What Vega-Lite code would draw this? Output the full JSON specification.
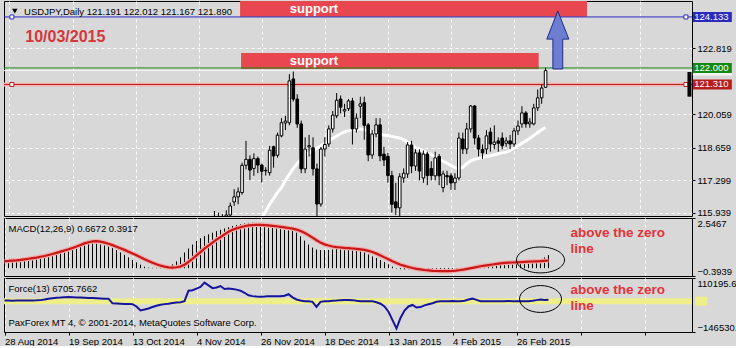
{
"$schema": "https://vega.github.io/schema/vega-lite/v6.json",
"background": "#D8D8D8",
"padding": {"left": 3, "top": 0, "right": 0, "bottom": 0},
"spacing": 2,
"bounds": "flush",
"config": {
  "font": "Liberation Sans, Arial, sans-serif",
  "view": {"stroke": "#000000", "strokeWidth": 1, "fill": "#D8D8D8"},
  "axis": {"labelFont": "Liberation Sans, Arial, sans-serif", "labelFontSize": 9.5, "labelColor": "#000000", "tickColor": "#000000", "gridColor": "#FFFFFF", "gridDash": [3, 3], "gridWidth": 1, "domain": false},
  "text": {"font": "Liberation Sans, Arial, sans-serif", "fontSize": 9.5}
},
"datasets": {
  "zones": [
    {"x1": 58.5, "x2": 146.5, "y1": 124.145, "y2": 124.95, "lx": 77.25, "ly": 124.47, "label": "support"},
    {"x1": 58.75, "x2": 134.25, "y1": 121.96, "y2": 122.63, "lx": 77.25, "ly": 122.30, "label": "support"}
  ],
  "levels": [
    {"name": "resistance", "price": 124.133},
    {"name": "bid", "price": 121.89},
    {"name": "target", "price": 122.0},
    {"name": "stop", "price": 121.31}
  ],
  "candles": [
    {"i":52,"o":115.40,"h":116.02,"l":115.10,"c":115.60},
    {"i":53,"o":115.60,"h":115.95,"l":115.30,"c":115.50},
    {"i":54,"o":115.50,"h":115.90,"l":115.20,"c":115.70},
    {"i":55,"o":115.70,"h":116.05,"l":115.40,"c":115.85},
    {"i":56,"o":115.85,"h":116.37,"l":115.60,"c":116.23},
    {"i":57,"o":116.40,"h":116.93,"l":116.23,"c":116.61},
    {"i":58,"o":116.61,"h":117.00,"l":116.30,"c":116.82},
    {"i":59,"o":116.79,"h":118.04,"l":116.70,"c":117.93},
    {"i":60,"o":117.93,"h":118.95,"l":117.76,"c":118.18},
    {"i":61,"o":118.18,"h":118.35,"l":117.32,"c":117.73},
    {"i":62,"o":117.80,"h":118.43,"l":117.49,"c":118.21},
    {"i":63,"o":118.21,"h":118.30,"l":117.60,"c":117.94},
    {"i":64,"o":117.94,"h":118.00,"l":117.21,"c":117.68},
    {"i":65,"o":117.70,"h":117.85,"l":117.50,"c":117.72},
    {"i":66,"o":117.62,"h":118.74,"l":117.50,"c":118.56},
    {"i":67,"o":118.71,"h":118.75,"l":117.83,"c":118.32},
    {"i":68,"o":118.35,"h":119.30,"l":118.25,"c":119.19},
    {"i":69,"o":119.16,"h":119.90,"l":119.10,"c":119.71},
    {"i":70,"o":119.70,"h":120.00,"l":119.40,"c":119.78},
    {"i":71,"o":119.71,"h":121.74,"l":119.60,"c":121.46},
    {"i":72,"o":121.54,"h":121.85,"l":120.60,"c":120.70},
    {"i":73,"o":120.70,"h":120.90,"l":119.50,"c":119.66},
    {"i":74,"o":119.66,"h":119.80,"l":117.60,"c":117.78},
    {"i":75,"o":117.78,"h":119.10,"l":117.60,"c":118.61},
    {"i":76,"o":118.70,"h":119.20,"l":118.30,"c":118.75},
    {"i":77,"o":118.66,"h":119.10,"l":117.50,"c":117.78},
    {"i":78,"o":117.78,"h":118.00,"l":115.80,"c":116.31},
    {"i":79,"o":116.31,"h":118.70,"l":116.20,"c":118.61},
    {"i":80,"o":118.61,"h":119.10,"l":118.30,"c":118.80},
    {"i":81,"o":118.82,"h":119.60,"l":118.70,"c":119.45},
    {"i":82,"o":119.45,"h":120.20,"l":119.30,"c":120.03},
    {"i":83,"o":120.00,"h":120.95,"l":119.90,"c":120.65},
    {"i":84,"o":120.70,"h":120.85,"l":120.10,"c":120.36},
    {"i":85,"o":120.20,"h":120.50,"l":119.95,"c":120.26},
    {"i":86,"o":120.30,"h":120.70,"l":120.20,"c":120.62},
    {"i":87,"o":120.62,"h":120.75,"l":118.80,"c":119.45},
    {"i":88,"o":119.45,"h":120.10,"l":119.30,"c":119.90},
    {"i":89,"o":120.40,"h":120.80,"l":119.90,"c":120.50},
    {"i":90,"o":120.55,"h":120.80,"l":119.00,"c":119.60},
    {"i":91,"o":119.62,"h":119.70,"l":118.10,"c":118.36},
    {"i":92,"o":118.36,"h":119.40,"l":118.20,"c":119.24},
    {"i":93,"o":119.24,"h":119.90,"l":119.10,"c":119.62},
    {"i":94,"o":119.62,"h":119.90,"l":118.10,"c":118.32},
    {"i":95,"o":118.40,"h":118.70,"l":117.90,"c":118.15},
    {"i":96,"o":118.30,"h":118.45,"l":117.20,"c":117.50},
    {"i":97,"o":117.50,"h":117.70,"l":115.95,"c":116.30},
    {"i":98,"o":116.40,"h":117.20,"l":115.85,"c":116.15},
    {"i":99,"o":116.15,"h":117.60,"l":115.80,"c":117.45},
    {"i":100,"o":117.40,"h":117.80,"l":117.20,"c":117.60},
    {"i":101,"o":117.57,"h":118.90,"l":117.40,"c":118.78},
    {"i":102,"o":118.78,"h":118.95,"l":117.60,"c":117.90},
    {"i":103,"o":117.90,"h":118.60,"l":117.70,"c":118.45},
    {"i":104,"o":118.45,"h":118.60,"l":117.30,"c":117.69},
    {"i":105,"o":117.40,"h":118.55,"l":117.20,"c":118.40},
    {"i":106,"o":118.40,"h":118.50,"l":117.10,"c":117.50},
    {"i":107,"o":117.80,"h":118.10,"l":117.30,"c":117.50},
    {"i":108,"o":117.49,"h":118.50,"l":117.30,"c":118.24},
    {"i":109,"o":118.30,"h":118.40,"l":117.10,"c":117.49},
    {"i":110,"o":117.00,"h":117.70,"l":116.80,"c":117.57},
    {"i":111,"o":117.50,"h":117.70,"l":117.10,"c":117.45},
    {"i":112,"o":117.49,"h":117.60,"l":116.90,"c":117.19},
    {"i":113,"o":117.20,"h":117.60,"l":116.90,"c":117.40},
    {"i":114,"o":117.40,"h":119.30,"l":117.30,"c":119.07},
    {"i":115,"o":119.03,"h":119.30,"l":118.40,"c":118.61},
    {"i":116,"o":118.61,"h":119.70,"l":118.40,"c":119.45},
    {"i":117,"o":119.45,"h":120.45,"l":119.30,"c":120.41},
    {"i":118,"o":120.41,"h":120.45,"l":118.80,"c":119.07},
    {"i":119,"o":119.07,"h":119.20,"l":118.30,"c":118.61},
    {"i":120,"o":118.60,"h":118.80,"l":118.20,"c":118.45},
    {"i":121,"o":118.61,"h":119.40,"l":118.40,"c":119.16},
    {"i":122,"o":119.32,"h":119.50,"l":118.50,"c":118.82},
    {"i":123,"o":118.80,"h":119.60,"l":118.60,"c":118.90},
    {"i":124,"o":118.95,"h":119.10,"l":118.50,"c":118.85},
    {"i":125,"o":119.07,"h":119.30,"l":118.60,"c":118.75},
    {"i":126,"o":118.85,"h":119.10,"l":118.70,"c":118.95},
    {"i":127,"o":118.95,"h":119.20,"l":118.60,"c":118.82},
    {"i":128,"o":118.82,"h":119.50,"l":118.70,"c":119.37},
    {"i":129,"o":119.37,"h":119.80,"l":119.20,"c":119.57},
    {"i":130,"o":119.66,"h":120.40,"l":119.50,"c":120.12},
    {"i":131,"o":120.12,"h":120.20,"l":119.50,"c":119.66},
    {"i":132,"o":119.66,"h":119.90,"l":119.50,"c":119.74},
    {"i":133,"o":119.66,"h":120.50,"l":119.60,"c":120.33},
    {"i":134,"o":120.33,"h":121.10,"l":120.20,"c":120.75},
    {"i":135,"o":120.75,"h":121.30,"l":120.50,"c":121.16},
    {"i":136,"o":121.191,"h":122.012,"l":121.167,"c":121.890}
  ],
  "ma": [
    {"i":64,"v":115.75},{"i":65,"v":116.0},{"i":66,"v":116.3},{"i":67,"v":116.55},{"i":68,"v":116.8},{"i":69,"v":117.0},
    {"i":70,"v":117.3},{"i":71,"v":117.55},{"i":72,"v":117.8},{"i":73,"v":118.0},{"i":74,"v":118.2},{"i":75,"v":118.35},
    {"i":76,"v":118.45},{"i":77,"v":118.55},{"i":78,"v":118.65},{"i":79,"v":118.75},{"i":80,"v":118.85},{"i":81,"v":118.95},
    {"i":82,"v":119.05},{"i":83,"v":119.15},{"i":84,"v":119.25},{"i":85,"v":119.33},{"i":86,"v":119.38},{"i":87,"v":119.42},
    {"i":88,"v":119.45},{"i":89,"v":119.45},{"i":90,"v":119.42},{"i":91,"v":119.38},{"i":92,"v":119.32},{"i":93,"v":119.26},
    {"i":94,"v":119.22},{"i":95,"v":119.2},{"i":96,"v":119.17},{"i":97,"v":119.14},{"i":98,"v":119.1},{"i":99,"v":119.07},
    {"i":100,"v":119.0},{"i":101,"v":118.9},{"i":102,"v":118.78},{"i":103,"v":118.68},{"i":104,"v":118.6},{"i":105,"v":118.52},
    {"i":106,"v":118.45},{"i":107,"v":118.38},{"i":108,"v":118.3},{"i":109,"v":118.2},{"i":110,"v":118.1},{"i":111,"v":118.02},
    {"i":112,"v":117.92},{"i":113,"v":117.83},{"i":114,"v":117.78},{"i":115,"v":117.85},{"i":116,"v":118.0},{"i":117,"v":118.12},
    {"i":118,"v":118.18},{"i":119,"v":118.22},{"i":120,"v":118.26},{"i":121,"v":118.3},{"i":122,"v":118.33},{"i":123,"v":118.37},
    {"i":124,"v":118.41},{"i":125,"v":118.45},{"i":126,"v":118.48},{"i":127,"v":118.55},{"i":128,"v":118.65},{"i":129,"v":118.75},
    {"i":130,"v":118.85},{"i":131,"v":118.95},{"i":132,"v":119.05},{"i":133,"v":119.18},{"i":134,"v":119.3},{"i":135,"v":119.42},
    {"i":136,"v":119.52}
  ],
  "ind": [
    {"i":0,"hist":0.40,"sig":0.36,"force":3000},{"i":1,"hist":0.42,"sig":0.37,"force":3000},{"i":2,"hist":0.44,"sig":0.39,"force":2500},
    {"i":3,"hist":0.45,"sig":0.40,"force":3000},{"i":4,"hist":0.46,"sig":0.42,"force":3000},{"i":5,"hist":0.48,"sig":0.45,"force":3500},
    {"i":6,"hist":0.50,"sig":0.48,"force":3000},{"i":7,"hist":0.53,"sig":0.51,"force":3500},{"i":8,"hist":0.58,"sig":0.54,"force":4000},
    {"i":9,"hist":0.63,"sig":0.58,"force":5000},{"i":10,"hist":0.68,"sig":0.62,"force":8000},{"i":11,"hist":0.74,"sig":0.67,"force":12000},
    {"i":12,"hist":0.80,"sig":0.72,"force":14000},{"i":13,"hist":0.86,"sig":0.78,"force":16000},{"i":14,"hist":0.92,"sig":0.84,"force":17000},
    {"i":15,"hist":0.98,"sig":0.90,"force":19000},{"i":16,"hist":1.04,"sig":0.96,"force":20000},{"i":17,"hist":1.10,"sig":1.03,"force":19000},
    {"i":18,"hist":1.16,"sig":1.10,"force":18000},{"i":19,"hist":1.22,"sig":1.18,"force":17000},{"i":20,"hist":1.27,"sig":1.26,"force":16000},
    {"i":21,"hist":1.29,"sig":1.32,"force":15000},{"i":22,"hist":1.28,"sig":1.36,"force":15000},{"i":23,"hist":1.25,"sig":1.37,"force":14000},
    {"i":24,"hist":1.20,"sig":1.35,"force":13000},{"i":25,"hist":1.15,"sig":1.30,"force":12000},{"i":26,"hist":1.10,"sig":1.24,"force":12000},
    {"i":27,"hist":1.02,"sig":1.17,"force":-10000},{"i":28,"hist":0.92,"sig":1.09,"force":-11000},{"i":29,"hist":0.80,"sig":1.01,"force":-12000},
    {"i":30,"hist":0.68,"sig":0.93,"force":-13000},{"i":31,"hist":0.55,"sig":0.84,"force":-13000},{"i":32,"hist":0.42,"sig":0.75,"force":-14000},
    {"i":33,"hist":0.30,"sig":0.66,"force":-25000},{"i":34,"hist":0.18,"sig":0.56,"force":-44000},{"i":35,"hist":0.08,"sig":0.46,"force":-40000},
    {"i":36,"hist":0.03,"sig":0.37,"force":-35000},{"i":37,"hist":0.02,"sig":0.28,"force":-28000},{"i":38,"hist":0.02,"sig":0.20,"force":-22000},
    {"i":39,"hist":0.03,"sig":0.13,"force":-17000},{"i":40,"hist":0.05,"sig":0.08,"force":-14000},{"i":41,"hist":0.10,"sig":0.04,"force":-12000},
    {"i":42,"hist":0.20,"sig":0.03,"force":-9000},{"i":43,"hist":0.35,"sig":0.05,"force":-6000},{"i":44,"hist":0.55,"sig":0.09,"force":-5000},
    {"i":45,"hist":0.80,"sig":0.18,"force":0},{"i":46,"hist":1.00,"sig":0.32,"force":50000},{"i":47,"hist":1.20,"sig":0.48,"force":52000},
    {"i":48,"hist":1.38,"sig":0.65,"force":60000},{"i":49,"hist":1.52,"sig":0.82,"force":68000},{"i":50,"hist":1.63,"sig":1.00,"force":88000},
    {"i":51,"hist":1.72,"sig":1.15,"force":75000},{"i":52,"hist":1.80,"sig":1.30,"force":62000},{"i":53,"hist":1.88,"sig":1.45,"force":65000},
    {"i":54,"hist":1.95,"sig":1.58,"force":72000},{"i":55,"hist":2.02,"sig":1.72,"force":58000},{"i":56,"hist":2.08,"sig":1.85,"force":60000},
    {"i":57,"hist":2.14,"sig":1.95,"force":58000},{"i":58,"hist":2.19,"sig":2.02,"force":55000},{"i":59,"hist":2.23,"sig":2.08,"force":50000},
    {"i":60,"hist":2.27,"sig":2.13,"force":40000},{"i":61,"hist":2.30,"sig":2.17,"force":28000},{"i":62,"hist":2.31,"sig":2.19,"force":24000},
    {"i":63,"hist":2.30,"sig":2.20,"force":22000},{"i":64,"hist":2.27,"sig":2.20,"force":21000},{"i":65,"hist":2.22,"sig":2.19,"force":22000},
    {"i":66,"hist":2.15,"sig":2.17,"force":24000},{"i":67,"hist":2.08,"sig":2.15,"force":24000},{"i":68,"hist":2.02,"sig":2.13,"force":23000},
    {"i":69,"hist":1.98,"sig":2.10,"force":24000},{"i":70,"hist":1.95,"sig":2.07,"force":26000},{"i":71,"hist":1.93,"sig":2.04,"force":33000},
    {"i":72,"hist":1.90,"sig":2.01,"force":18000},{"i":73,"hist":1.80,"sig":1.96,"force":8000},{"i":74,"hist":1.62,"sig":1.89,"force":3000},
    {"i":75,"hist":1.40,"sig":1.80,"force":0},{"i":76,"hist":1.20,"sig":1.68,"force":0},{"i":77,"hist":1.05,"sig":1.55,"force":-3000},
    {"i":78,"hist":0.95,"sig":1.42,"force":-27000},{"i":79,"hist":0.92,"sig":1.30,"force":-3000},{"i":80,"hist":0.92,"sig":1.21,"force":0},
    {"i":81,"hist":0.93,"sig":1.15,"force":0},{"i":82,"hist":0.95,"sig":1.10,"force":2000},{"i":83,"hist":0.97,"sig":1.07,"force":3000},
    {"i":84,"hist":0.98,"sig":1.05,"force":5000},{"i":85,"hist":0.97,"sig":1.03,"force":6000},{"i":86,"hist":0.96,"sig":1.02,"force":6000},
    {"i":87,"hist":0.92,"sig":1.00,"force":5000},{"i":88,"hist":0.88,"sig":0.98,"force":2000},{"i":89,"hist":0.85,"sig":0.96,"force":0},
    {"i":90,"hist":0.80,"sig":0.93,"force":0},{"i":91,"hist":0.70,"sig":0.88,"force":0},{"i":92,"hist":0.60,"sig":0.82,"force":0},
    {"i":93,"hist":0.52,"sig":0.74,"force":-5000},{"i":94,"hist":0.42,"sig":0.65,"force":-12000},{"i":95,"hist":0.32,"sig":0.55,"force":-25000},
    {"i":96,"hist":0.20,"sig":0.45,"force":-50000},{"i":97,"hist":0.08,"sig":0.35,"force":-90000},{"i":98,"hist":-0.02,"sig":0.26,"force":-130000},
    {"i":99,"hist":-0.05,"sig":0.18,"force":-80000},{"i":100,"hist":-0.06,"sig":0.12,"force":-45000},{"i":101,"hist":-0.05,"sig":0.06,"force":-25000},
    {"i":102,"hist":-0.06,"sig":0.01,"force":-18000},{"i":103,"hist":-0.07,"sig":-0.03,"force":-30000},{"i":104,"hist":-0.08,"sig":-0.06,"force":-28000},
    {"i":105,"hist":-0.08,"sig":-0.09,"force":-20000},{"i":106,"hist":-0.09,"sig":-0.11,"force":-15000},{"i":107,"hist":-0.10,"sig":-0.13,"force":-10000},
    {"i":108,"hist":-0.10,"sig":-0.14,"force":-3000},{"i":109,"hist":-0.11,"sig":-0.15,"force":0},{"i":110,"hist":-0.12,"sig":-0.15,"force":0},
    {"i":111,"hist":-0.12,"sig":-0.15,"force":0},{"i":112,"hist":-0.13,"sig":-0.14,"force":1000},{"i":113,"hist":-0.12,"sig":-0.12,"force":0},
    {"i":114,"hist":-0.08,"sig":-0.09,"force":0},{"i":115,"hist":-0.04,"sig":-0.06,"force":2000},{"i":116,"hist":0.02,"sig":-0.02,"force":8000},
    {"i":117,"hist":0.10,"sig":0.02,"force":12000},{"i":118,"hist":0.15,"sig":0.06,"force":6000},{"i":119,"hist":0.17,"sig":0.10,"force":0},
    {"i":120,"hist":0.18,"sig":0.13,"force":0},{"i":121,"hist":0.20,"sig":0.16,"force":0},{"i":122,"hist":0.22,"sig":0.19,"force":0},
    {"i":123,"hist":0.24,"sig":0.22,"force":0},{"i":124,"hist":0.26,"sig":0.25,"force":0},{"i":125,"hist":0.27,"sig":0.27,"force":0},
    {"i":126,"hist":0.28,"sig":0.28,"force":1000},{"i":127,"hist":0.30,"sig":0.29,"force":0},{"i":128,"hist":0.32,"sig":0.30,"force":0},
    {"i":129,"hist":0.34,"sig":0.31,"force":0},{"i":130,"hist":0.37,"sig":0.32,"force":0},{"i":131,"hist":0.38,"sig":0.33,"force":0},
    {"i":132,"hist":0.38,"sig":0.34,"force":2000},{"i":133,"hist":0.40,"sig":0.35,"force":5000},{"i":134,"hist":0.45,"sig":0.36,"force":8000},
    {"i":135,"hist":0.55,"sig":0.375,"force":6000},{"i":136,"hist":0.6672,"sig":0.3917,"force":6705.77}
  ]
},
"vconcat": [
  {
    "width": 688, "height": 215,
    "layer": [
      {
        "data": {"name": "zones"},
        "mark": {"type": "rect", "color": "#E8474F", "clip": true},
        "encoding": {
          "x": {"field": "x1", "type": "quantitative", "title": null, "scale": {"domain": [-0.125, 171.875], "nice": false, "zero": false},
                "axis": {"values": [0,8,16,24,32,40,48,56,64,72,80,88,96,104,112,120,128,136,144,152,160,168], "grid": true, "labels": false, "ticks": false, "domain": false, "title": null}},
          "x2": {"field": "x2"},
          "y": {"field": "y1", "type": "quantitative", "title": null, "scale": {"domain": [115.81, 124.8], "nice": false, "zero": false},
                "axis": {"orient": "right", "values": [122.819, 120.059, 118.659, 117.299, 115.939], "format": ".3f", "grid": true, "ticks": true, "tickSize": 3, "labelPadding": 2, "labelOverlap": false, "domain": false, "title": null}},
          "y2": {"field": "y2"}
        }
      },
      {
        "data": {"name": "zones"},
        "mark": {"type": "text", "fontWeight": "bold", "fontSize": 13, "color": "#FFFFFF", "align": "center", "baseline": "middle", "clip": true},
        "encoding": {
          "x": {"field": "lx", "type": "quantitative", "title": null},
          "y": {"field": "ly", "type": "quantitative", "title": null},
          "text": {"field": "label"}
        }
      },
      {
        "data": {"name": "levels"},
        "transform": [{"filter": "datum.name == 'stop'"}],
        "mark": {"type": "rule", "color": "#F2B3B3", "strokeWidth": 4, "clip": true},
        "encoding": {"y": {"field": "price", "type": "quantitative", "title": null}}
      },
      {
        "data": {"name": "levels"},
        "mark": {"type": "rule", "strokeWidth": 1, "clip": true},
        "encoding": {
          "y": {"field": "price", "type": "quantitative", "title": null},
          "color": {"field": "name", "type": "nominal", "legend": null, "scale": {"domain": ["resistance", "bid", "target", "stop"], "range": ["#2A2AC0", "#F4F4F4", "#138A13", "#B81C1C"]}}
        }
      },
      {
        "data": {"name": "ma"},
        "mark": {"type": "line", "color": "#FFFFFF", "strokeWidth": 3, "clip": true},
        "encoding": {
          "x": {"field": "i", "type": "quantitative", "title": null},
          "y": {"field": "v", "type": "quantitative", "title": null}
        }
      },
      {
        "data": {"name": "candles"},
        "mark": {"type": "rule", "color": "#000000", "strokeWidth": 1, "clip": true},
        "encoding": {
          "x": {"field": "i", "type": "quantitative", "title": null},
          "y": {"field": "l", "type": "quantitative", "title": null},
          "y2": {"field": "h"}
        }
      },
      {
        "data": {"name": "candles"},
        "mark": {"type": "bar", "width": 2.6, "stroke": "#000000", "strokeWidth": 1, "clip": true},
        "encoding": {
          "x": {"field": "i", "type": "quantitative", "title": null},
          "y": {"field": "o", "type": "quantitative", "title": null},
          "y2": {"field": "c"},
          "fill": {"condition": {"test": "datum.c >= datum.o", "value": "#FFFFFF"}, "value": "#000000"}
        }
      },
      {
        "data": {"values": [{}]},
        "mark": {"type": "point", "shape": "M0,-1L0.38,-0.03L0.17,-0.03L0.17,1L-0.17,1L-0.17,-0.03L-0.38,-0.03Z", "size": 3364, "filled": true, "fill": "#6D7ED2", "stroke": "#1F2A8C", "strokeWidth": 1, "opacity": 1},
        "encoding": {"x": {"datum": 139.1, "type": "quantitative"}, "y": {"datum": 123.17, "type": "quantitative"}}
      },
      {
        "data": {"name": "levels"},
        "transform": [{"filter": "datum.name == 'resistance' || datum.name == 'stop'"}],
        "mark": {"type": "point", "shape": "square", "size": 16, "filled": true, "fill": "#FFFFFF", "strokeWidth": 1, "opacity": 1},
        "encoding": {
          "x": {"datum": 0.6, "type": "quantitative"},
          "y": {"field": "price", "type": "quantitative", "title": null},
          "stroke": {"field": "name", "type": "nominal", "legend": null, "scale": {"domain": ["resistance", "bid", "target", "stop"], "range": ["#2A2AC0", "#F4F4F4", "#138A13", "#B81C1C"]}}
        }
      },
      {
        "data": {"name": "levels"},
        "transform": [{"filter": "datum.name == 'resistance' || datum.name == 'stop'"}],
        "mark": {"type": "point", "shape": "square", "size": 16, "filled": true, "fill": "#FFFFFF", "strokeWidth": 1, "opacity": 1},
        "encoding": {
          "x": {"datum": 171.6, "type": "quantitative"},
          "y": {"field": "price", "type": "quantitative", "title": null},
          "stroke": {"field": "name", "type": "nominal", "legend": null, "scale": {"domain": ["resistance", "bid", "target", "stop"], "range": ["#2A2AC0", "#F4F4F4", "#138A13", "#B81C1C"]}}
        }
      },
      {
        "data": {"values": [{}]},
        "mark": {"type": "point", "shape": "triangle-down", "size": 30, "filled": true, "color": "#000000", "opacity": 1},
        "encoding": {"x": {"datum": 1.35, "type": "quantitative"}, "y": {"datum": 124.38, "type": "quantitative"}}
      },
      {
        "data": {"values": [{}]},
        "mark": {"type": "text", "text": "USDJPY,Daily  121.191 122.012 121.167 121.890", "align": "left", "baseline": "alphabetic", "fontSize": 9.5, "color": "#000000"},
        "encoding": {"x": {"datum": 3.7, "type": "quantitative"}, "y": {"datum": 124.23, "type": "quantitative"}}
      },
      {
        "data": {"values": [{}]},
        "mark": {"type": "text", "text": "10/03/2015", "align": "left", "baseline": "alphabetic", "fontWeight": "bold", "fontSize": 16, "color": "#D4373C"},
        "encoding": {"x": {"datum": 4.0, "type": "quantitative"}, "y": {"datum": 123.086, "type": "quantitative"}}
      },
      {
        "data": {"values": [{}]},
        "mark": {"type": "rule", "color": "#000000", "strokeWidth": 4, "clip": false},
        "encoding": {"x": {"datum": 172.5, "type": "quantitative"}, "y": {"datum": 121.83, "type": "quantitative"}, "y2": {"datum": 120.8}}
      },
      {
        "data": {"name": "levels"},
        "mark": {"type": "tick", "orient": "horizontal", "size": 39, "thickness": 10, "opacity": 1, "clip": false},
        "encoding": {
          "x": {"datum": 178.3, "type": "quantitative"},
          "y": {"field": "price", "type": "quantitative", "title": null},
          "color": {"field": "name", "type": "nominal", "legend": null, "scale": {"domain": ["resistance", "bid", "target", "stop"], "range": ["#1E1EB8", "#000000", "#178A17", "#E41E1E"]}}
        }
      },
      {
        "data": {"name": "levels"},
        "transform": [{"filter": "datum.name != 'bid'"}],
        "mark": {"type": "text", "align": "left", "baseline": "middle", "fontSize": 9.5, "color": "#FFFFFF", "clip": false},
        "encoding": {
          "x": {"datum": 173.7, "type": "quantitative"},
          "y": {"field": "price", "type": "quantitative", "title": null},
          "text": {"field": "price", "format": ".3f"}
        }
      }
    ]
  },
  {
    "width": 688, "height": 58,
    "layer": [
      {
        "data": {"name": "ind"},
        "mark": {"type": "rule", "color": "#000000", "strokeWidth": 1, "clip": true},
        "encoding": {
          "x": {"field": "i", "type": "quantitative", "title": null, "scale": {"domain": [-0.125, 171.875], "nice": false, "zero": false},
                "axis": {"values": [0,8,16,24,32,40,48,56,64,72,80,88,96,104,112,120,128,136,144,152,160,168], "grid": true, "labels": false, "ticks": false, "domain": false, "title": null}},
          "y": {"field": "hist", "type": "quantitative", "title": null, "scale": {"domain": [-0.3939, 2.5467], "nice": false, "zero": false},
                "axis": {"orient": "right", "values": [2.5467, 0, -0.3939], "labelExpr": "datum.value == 0 ? '0.00' : format(datum.value, '.4f')", "labelFlush": true, "labelOverlap": false, "grid": false, "ticks": true, "tickSize": 3, "labelPadding": 2, "domain": false, "title": null}},
          "y2": {"datum": 0}
        }
      },
      {
        "data": {"name": "ind"},
        "mark": {"type": "line", "color": "#F3A9A9", "strokeWidth": 4.5, "clip": true},
        "encoding": {"x": {"field": "i", "type": "quantitative", "title": null}, "y": {"field": "sig", "type": "quantitative", "title": null}}
      },
      {
        "data": {"name": "ind"},
        "mark": {"type": "line", "color": "#C81818", "strokeWidth": 2.2, "clip": true},
        "encoding": {"x": {"field": "i", "type": "quantitative", "title": null}, "y": {"field": "sig", "type": "quantitative", "title": null}}
      },
      {
        "data": {"values": [{}]},
        "mark": {"type": "point", "shape": "M-1,0A1,0.54 0 1,0 1,0A1,0.54 0 1,0 -1,0Z", "size": 2304, "filled": false, "stroke": "#000000", "strokeWidth": 1, "opacity": 1},
        "encoding": {"x": {"datum": 134, "type": "quantitative"}, "y": {"datum": 0.42, "type": "quantitative"}}
      },
      {
        "data": {"values": [{}]},
        "mark": {"type": "text", "text": "MACD(12,26,9) 0.6672 0.3917", "align": "left", "baseline": "alphabetic", "fontSize": 9.5, "color": "#000000"},
        "encoding": {"x": {"datum": 1, "type": "quantitative"}, "y": {"datum": 1.86, "type": "quantitative"}}
      },
      {
        "data": {"values": [{}]},
        "mark": {"type": "text", "text": ["above the zero", "line"], "lineHeight": 16, "align": "left", "baseline": "alphabetic", "fontWeight": "bold", "fontSize": 13.5, "color": "#E2323A"},
        "encoding": {"x": {"datum": 141.5, "type": "quantitative"}, "y": {"datum": 1.583, "type": "quantitative"}}
      }
    ]
  },
  {
    "width": 688, "height": 54,
    "layer": [
      {
        "data": {"values": [{}]},
        "mark": {"type": "rule", "color": "#EEEE8A", "strokeWidth": 6, "clip": true},
        "encoding": {"y": {"datum": 0, "type": "quantitative"}}
      },
      {
        "data": {"name": "ind"},
        "mark": {"type": "line", "color": "#14149C", "strokeWidth": 2, "clip": true},
        "encoding": {
          "x": {"field": "i", "type": "quantitative", "title": null, "scale": {"domain": [-0.125, 171.875], "nice": false, "zero": false},
                "axis": {"values": [0,8,16,24,32,40,48,56,64,72,80,88,96,104,112,120,128,136,144,152,160,168], "grid": true, "labels": true, "ticks": true, "tickSize": 3, "labelPadding": 1, "labelAlign": "left", "labelFlush": false, "labelOverlap": false, "domain": false, "title": null,
                         "labelExpr": "datum.value % 16 == 0 && datum.value <= 128 ? ['28 Aug 2014','19 Sep 2014','13 Oct 2014','4 Nov 2014','26 Nov 2014','18 Dec 2014','13 Jan 2015','4 Feb 2015','26 Feb 2015'][datum.value / 16] : ''"}},
          "y": {"field": "force", "type": "quantitative", "title": null, "scale": {"domain": [-146530.9, 110195.6], "nice": false, "zero": false},
                "axis": {"orient": "right", "values": [110195.6, 0, -146530.9], "labelExpr": "datum.value == 0 ? '0.00' : format(datum.value, '.1f')", "labelFlush": true, "labelOverlap": false, "grid": false, "ticks": true, "tickSize": 3, "labelPadding": 2, "domain": false, "title": null, "zindex": 2}}
        }
      },
      {
        "data": {"values": [{}]},
        "mark": {"type": "tick", "orient": "horizontal", "size": 12, "thickness": 9, "color": "#EEEE8A", "opacity": 1, "clip": false},
        "encoding": {"x": {"datum": 174.2, "type": "quantitative"}, "y": {"datum": 0, "type": "quantitative"}}
      },
      {
        "data": {"values": [{}]},
        "mark": {"type": "point", "shape": "M-1,0A1,0.64 0 1,0 1,0A1,0.64 0 1,0 -1,0Z", "size": 1764, "filled": false, "stroke": "#000000", "strokeWidth": 1, "opacity": 1},
        "encoding": {"x": {"datum": 134, "type": "quantitative"}, "y": {"datum": 10360, "type": "quantitative"}}
      },
      {
        "data": {"values": [{}]},
        "mark": {"type": "text", "text": "Force(13) 6705.7662", "align": "left", "baseline": "alphabetic", "fontSize": 9.5, "color": "#000000"},
        "encoding": {"x": {"datum": 1, "type": "quantitative"}, "y": {"datum": 46000, "type": "quantitative"}}
      },
      {
        "data": {"values": [{}]},
        "mark": {"type": "text", "text": "PaxForex MT 4, © 2001-2014, MetaQuotes Software Corp.", "align": "left", "baseline": "alphabetic", "fontSize": 9.5, "color": "#000000"},
        "encoding": {"x": {"datum": 1, "type": "quantitative"}, "y": {"datum": -118000, "type": "quantitative"}}
      },
      {
        "data": {"values": [{}]},
        "mark": {"type": "text", "text": ["above the zero", "line"], "lineHeight": 16, "align": "left", "baseline": "alphabetic", "fontWeight": "bold", "fontSize": 13.5, "color": "#E2323A"},
        "encoding": {"x": {"datum": 141.5, "type": "quantitative"}, "y": {"datum": 31754, "type": "quantitative"}}
      }
    ]
  }
]
}
